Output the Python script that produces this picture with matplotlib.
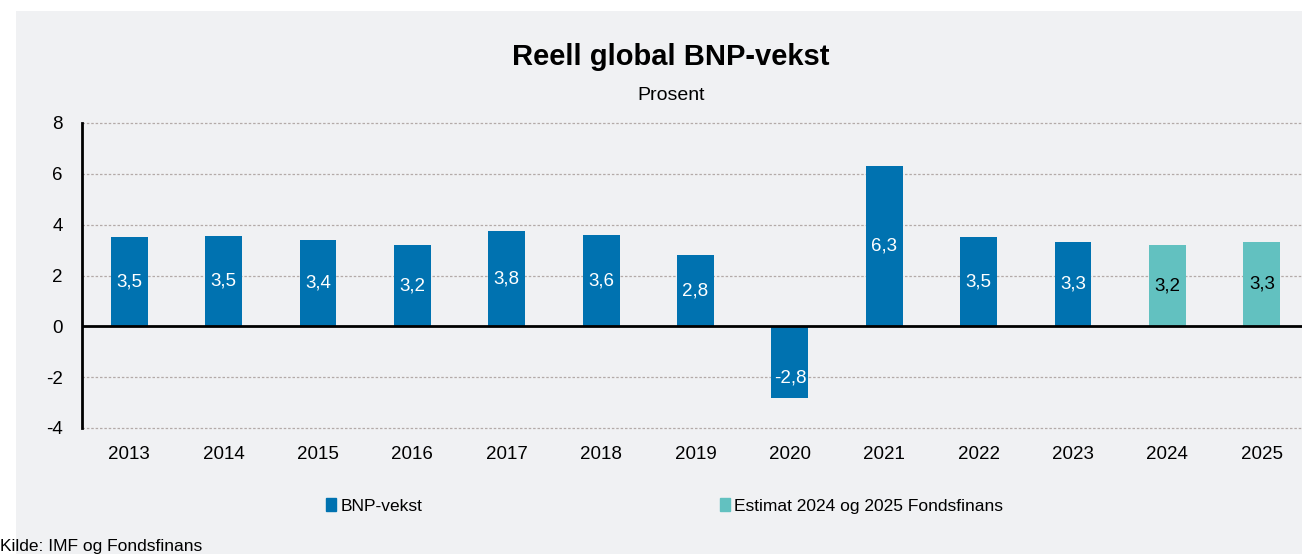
import matplotlib.pyplot as plt
import matplotlib.patches as mpatches
import numpy as np

plt.rcParams['font.family'] = ['Liberation Sans', 'DejaVu Sans']
plt.rcParams['axes.unicode_minus'] = False

# data
years = ['2013', '2014', '2015', '2016', '2017', '2018', '2019',
         '2020', '2021', '2022', '2023', '2024', '2025']
values = [3.5, 3.55, 3.4, 3.2, 3.75, 3.6, 2.8, -2.8, 6.3, 3.5, 3.3, 3.2, 3.3]
labels = ['3,5', '3,5', '3,4', '3,2', '3,8', '3,6', '2,8',
          '-2,8', '6,3', '3,5', '3,3', '3,2', '3,3']
estimate = [False] * 11 + [True] * 2

blue = '#0072B0'
teal = '#62C1C0'
bg = '#F0F1F3'

W, H = 1302, 554
fig = plt.figure(figsize=(W / 100, H / 100), dpi=100)
fig.patch.set_facecolor('white')
fig.patches.append(mpatches.Rectangle((16 / W, 0), 1, 1 - 11 / H,
                                      transform=fig.transFigure,
                                      facecolor=bg, edgecolor='none', zorder=-10))

ax = fig.add_axes([82 / W, 1 - 428 / H, (1309 - 82) / W, (428 - 123) / H])
ax.set_facecolor(bg)

x = np.arange(len(years))
colors = [teal if e else blue for e in estimate]
ax.bar(x, values, width=0.39, color=colors, zorder=3)

for xi, v, lab, e in zip(x, values, labels, estimate):
    y = v / 2 if v > 0 else v * 0.72
    ax.text(xi, y, lab, ha='center', va='center', fontsize=13.5,
            color='black' if e else 'white', zorder=4)

ax.set_xlim(-0.5, len(years) - 0.5)
ax.set_ylim(-4, 8)
ax.set_yticks(np.arange(-4, 9, 2))
ax.set_xticks(x)
ax.set_xticklabels(years)
ax.tick_params(axis='both', length=0, labelsize=13.5, colors='black')
ax.tick_params(axis='x', pad=13)
ax.tick_params(axis='y', pad=14)

for gy in [-4, -2, 2, 4, 6, 8]:
    ax.axhline(gy, color='#B3AAA8', linestyle=(0, (2, 1.5)), linewidth=0.9,
               zorder=1, clip_on=False)
ax.axhline(0, color='black', linewidth=2, zorder=5)

for s in ['top', 'right', 'bottom']:
    ax.spines[s].set_visible(False)
ax.spines['left'].set_linewidth(2)
ax.spines['left'].set_zorder(5)

fig.text(671 / W, 1 - 57 / H, 'Reell global BNP-vekst', ha='center', va='center',
         fontsize=21, fontweight='bold')
fig.text(671 / W, 1 - 95 / H, 'Prosent', ha='center', va='center', fontsize=14)

# legend
handles = [mpatches.Patch(color=blue, label='BNP-vekst'),
           mpatches.Patch(color=teal, label='Estimat 2024 og 2025 Fondsfinans')]
fig.legend(handles=handles, loc='center left', bbox_to_anchor=(326 / W, 1 - 506 / H),
           ncol=2, frameon=False, fontsize=12.5, handlelength=0.6, handleheight=0.8,
           handletextpad=0.25, columnspacing=17.1, borderpad=0, borderaxespad=0)

fig.text(0, 1 - 546 / H, 'Kilde: IMF og Fondsfinans', ha='left', va='center', fontsize=12.5)

plt.savefig('out.png', dpi=100)
